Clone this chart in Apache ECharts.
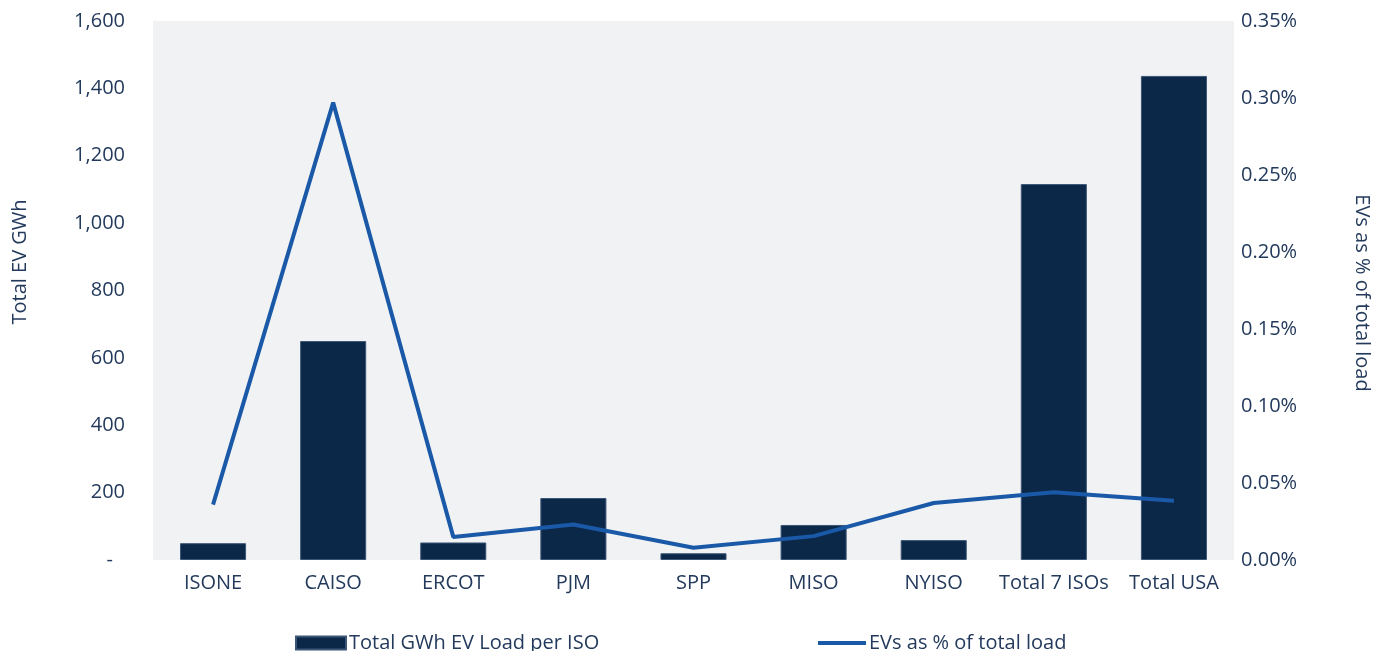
<!DOCTYPE html>
<html>
<head>
<meta charset="utf-8">
<script src="https://cdn.jsdelivr.net/npm/echarts@6/dist/echarts.min.js"></script>
<style>
html,body{margin:0;padding:0;background:#fff;}
#chart{width:1383px;height:651px;}
</style>
</head>
<body>
<div id="chart"></div>
<script>
const categories = ['ISONE','CAISO','ERCOT','PJM','SPP','MISO','NYISO','Total 7 ISOs','Total USA'];
const gwhValues = [50, 650, 52, 184, 20, 104, 59, 1116, 1437];
const pctValues = [0.036, 0.297, 0.015, 0.023, 0.008, 0.0155, 0.037, 0.044, 0.0385];
const leftTicks = {min: 0, max: 1600, interval: 200};
const rightTicks = {min: 0, max: 0.35, interval: 0.05};
const barName = 'Total GWh EV Load per ISO';
const lineName = 'EVs as % of total load';
const leftTitle = 'Total EV GWh';
const rightTitle = 'EVs as % of total load';

const textColor = '#233a5c';
const font = 'Open Sans';
const chart = echarts.init(document.getElementById('chart'));
chart.setOption({
  animation: false,
  textStyle: {fontFamily: font, color: textColor},
  grid: {left: 153, right: 149, top: 21, bottom: 91, show: true, backgroundColor: '#f1f2f4', borderWidth: 0},
  legend: [
    {data: [{name: barName, icon: 'rect'}], left: 290, top: 628, itemWidth: 50, itemHeight: 13, itemGap: 6,
     textStyle: {fontFamily: font, fontSize: 20, color: textColor, padding: [0,0,0,-2]}},
    {data: [{name: lineName, icon: 'rect'}], left: 813, top: 628, itemWidth: 48, itemHeight: 4,
     itemStyle: {color: '#1a59a7', borderWidth: 0},
     textStyle: {fontFamily: font, fontSize: 20, color: textColor, padding: [0,0,0,-2]}}
  ],
  xAxis: {
    type: 'category', data: categories,
    axisLine: {show: false}, axisTick: {show: false},
    axisLabel: {fontFamily: font, fontSize: 20, color: textColor, margin: 13, interval: 0}
  },
  yAxis: [
    {type: 'value', min: leftTicks.min, max: leftTicks.max, interval: leftTicks.interval,
     splitLine: {show: false}, axisLine: {show: false}, axisTick: {show: false},
     axisLabel: {fontFamily: font, fontSize: 20, color: textColor, margin: 28,
       formatter: v => v === 0 ? '{d|-}' : v.toLocaleString('en-US'),
       rich: {d: {fontFamily: font, fontSize: 20, color: textColor, padding: [0, 12, 0, 0]}}}},
    {type: 'value', min: rightTicks.min, max: rightTicks.max, interval: rightTicks.interval,
     splitLine: {show: false}, axisLine: {show: false}, axisTick: {show: false},
     axisLabel: {fontFamily: font, fontSize: 20, color: textColor, margin: 7,
       formatter: v => v.toFixed(2) + '%'}}
  ],
  graphic: [
    {type: 'text', x: 20, y: 262, rotation: Math.PI / 2,
     style: {text: leftTitle, fontFamily: font, fontSize: 20, fill: textColor, align: 'center', verticalAlign: 'middle'}},
    {type: 'text', x: 1362, y: 293, rotation: -Math.PI / 2,
     style: {text: rightTitle, fontFamily: font, fontSize: 20, fill: textColor, align: 'center', verticalAlign: 'middle'}}
  ],
  series: [
    {name: barName, type: 'bar', data: gwhValues, yAxisIndex: 0, barCategoryGap: '45%',
     itemStyle: {color: '#0c2849', borderColor: '#3d5677', borderWidth: 1}},
    {name: lineName, type: 'line', data: pctValues, yAxisIndex: 1, symbol: 'none',
     lineStyle: {color: '#1a59a7', width: 4}, itemStyle: {color: '#1a59a7'}}
  ]
});
</script>
</body>
</html>
